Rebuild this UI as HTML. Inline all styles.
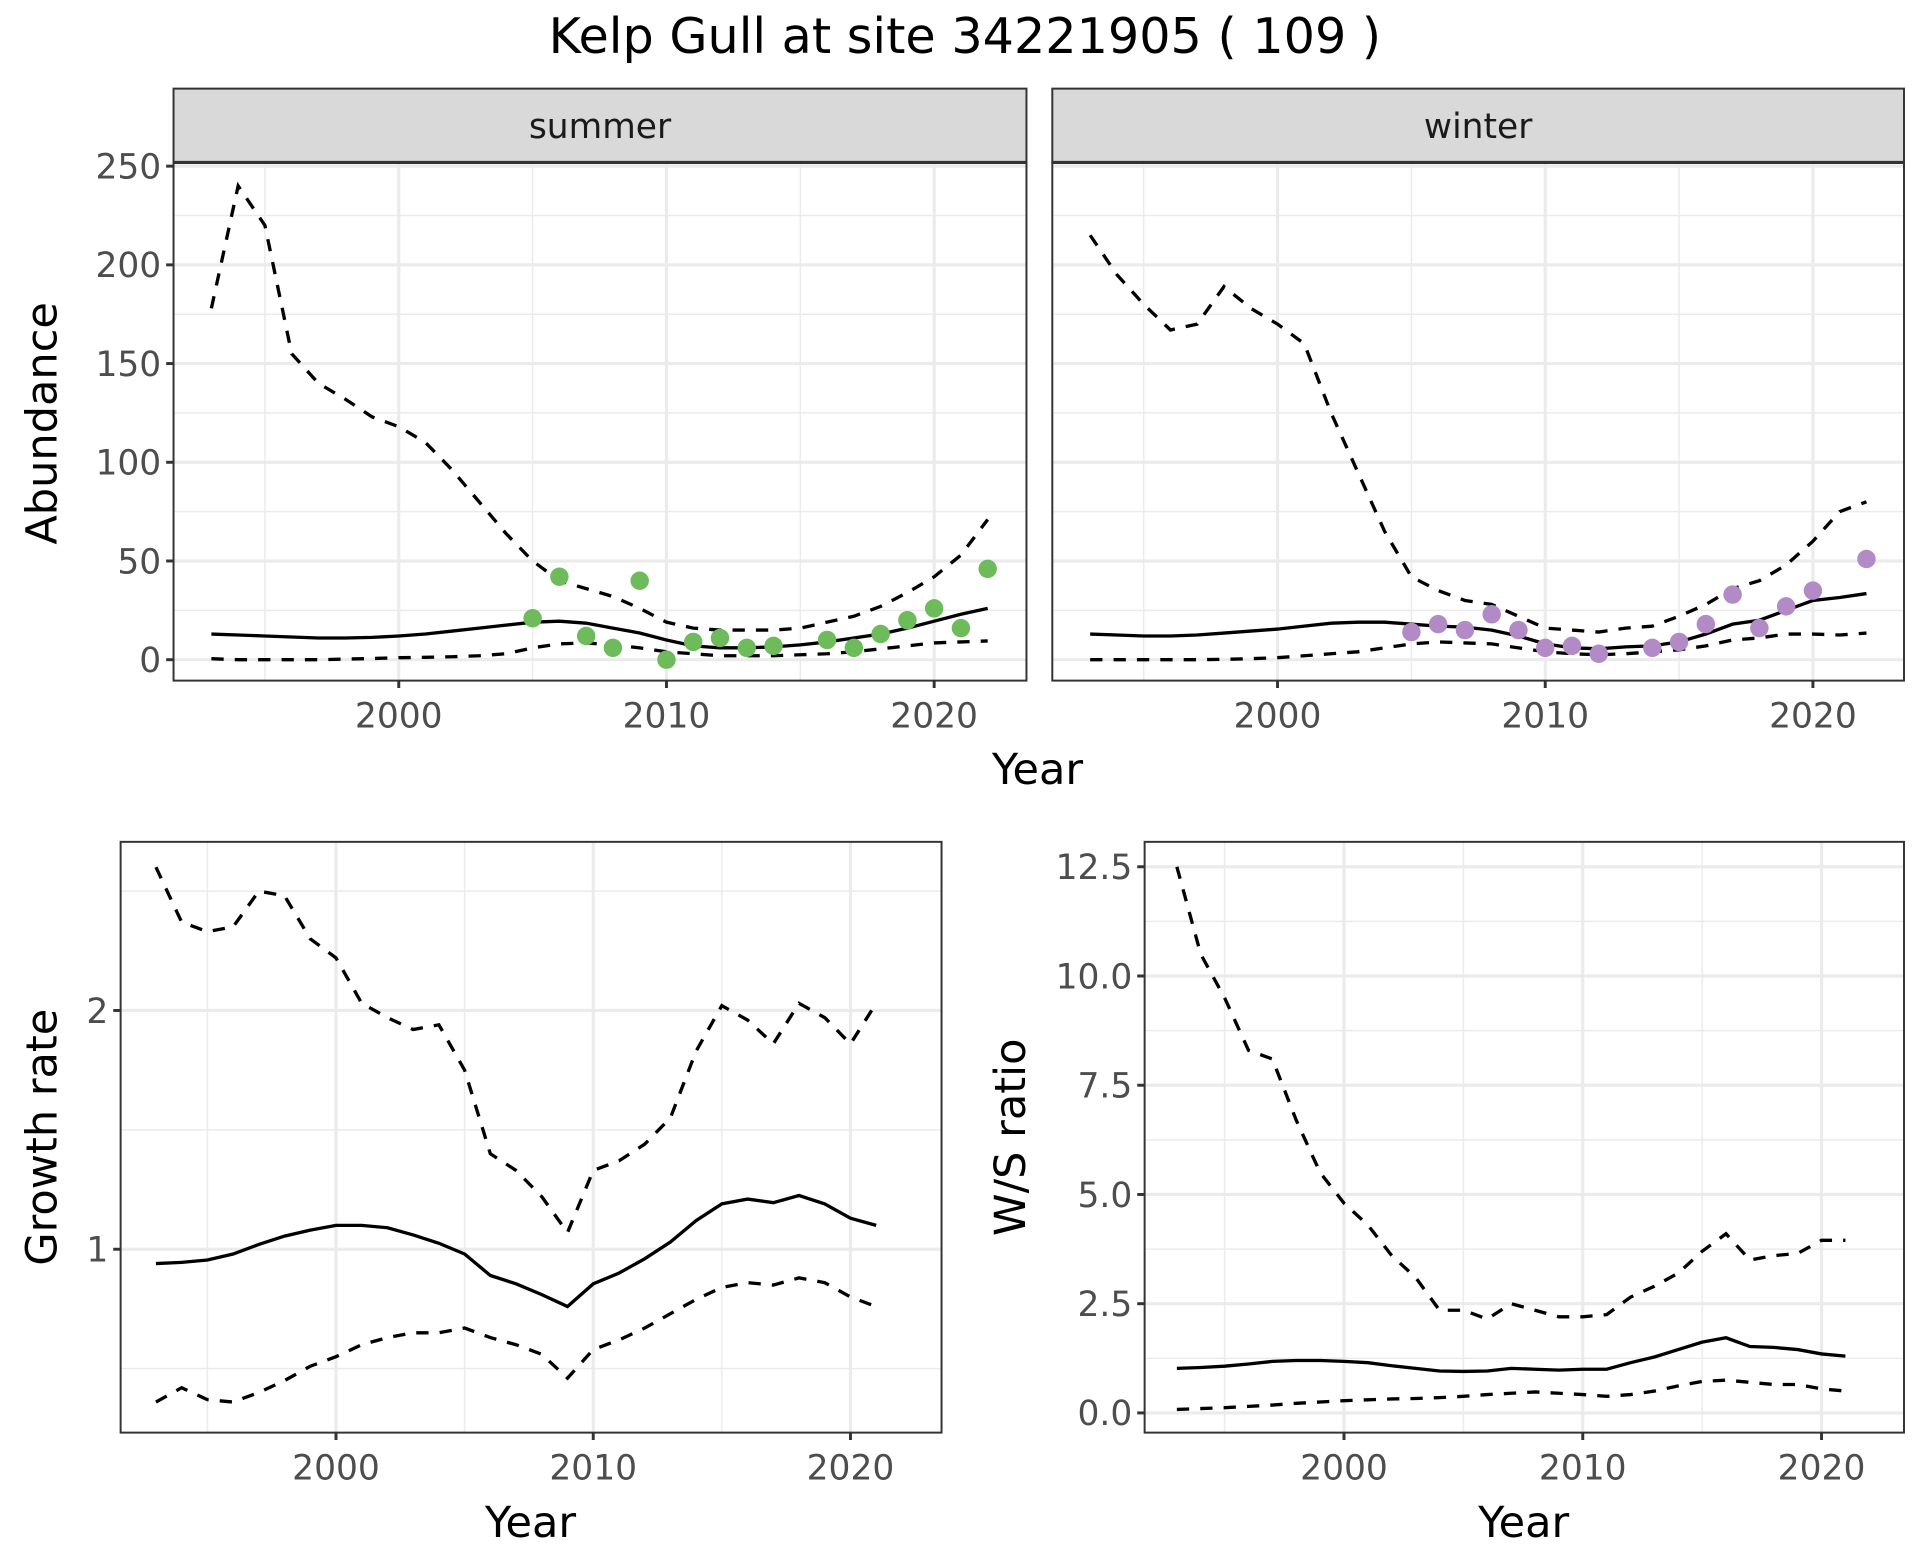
<!DOCTYPE html>
<html><head><meta charset="utf-8"><style>
html,body{margin:0;padding:0;background:#fff}
svg{display:block}
text{font-family:"DejaVu Sans","Liberation Sans",sans-serif}
</style></head><body>
<svg id="chart" width="1920" height="1560" viewBox="0 0 1560 1267.5" xmlns="http://www.w3.org/2000/svg">
<text x="784" y="43" font-size="40" text-anchor="middle" fill="#000">Kelp Gull at site 34221905 ( 109 )</text>
</svg>
<script>
const yearsA = [1993,1994,1995,1996,1997,1998,1999,2000,2001,2002,2003,2004,2005,2006,2007,2008,2009,2010,2011,2012,2013,2014,2015,2016,2017,2018,2019,2020,2021,2022];
const summerUpper = [178,240,220,155,140,132,123,118,110,96,80,64,50,40,36,32,26,19,16,15,15,15,16,19,22,27,34,42,53,71];
const summerMean = [13,12.5,12,11.5,11,11,11.3,12,13,14.5,16,17.5,19,19.5,18.5,16,13.5,10,7,6,6,6.5,7.5,9,11,13,16,19.5,23,26];
const summerLower = [0.5,0,0,0,0,0.3,0.6,1,1.2,1.5,2,3,6,8,8.5,7.5,6,4,3,2,2,2,2.5,3,4,5.5,7,8.5,9,9.5];
const summerPtYears = [2005,2006,2007,2008,2009,2010,2011,2012,2013,2014,2016,2017,2018,2019,2020,2021,2022];
const summerPtVals = [21,42,12,6,40,0,9,11,6,7,10,6,13,20,26,16,46];
const winterUpper = [215,195,180,167,170,189,178,170,160,125,95,65,42,35,30,28,22,16,15,14,16,17,22,28,36,40,48,60,75,80];
const winterMean = [13,12.5,12,12,12.5,13.5,14.5,15.5,17,18.5,19,19,18,17,16.5,15,12,8,6,5.5,6.5,7,9,13,18,20,25,30,31.5,33.5];
const winterLower = [0,0,0,0,0,0.2,0.5,1,2,3,4,6,8,9,8.5,8,6,4,3,2.5,3,4,5,7,10,11,13,13,12.5,13.5];
const winterPtYears = [2005,2006,2007,2008,2009,2010,2011,2012,2014,2015,2016,2017,2018,2019,2020,2022];
const winterPtVals = [14,18,15,23,15,6,7,3,6,9,18,33,16,27,35,51];
const yearsB = [1993,1994,1995,1996,1997,1998,1999,2000,2001,2002,2003,2004,2005,2006,2007,2008,2009,2010,2011,2012,2013,2014,2015,2016,2017,2018,2019,2020,2021];
const growthUpper = [2.6,2.37,2.33,2.35,2.5,2.48,2.3,2.22,2.03,1.97,1.92,1.94,1.75,1.4,1.33,1.22,1.07,1.33,1.37,1.44,1.55,1.83,2.02,1.96,1.86,2.03,1.97,1.86,2.03];
const growthMean = [0.94,0.945,0.955,0.98,1.02,1.055,1.08,1.1,1.1,1.09,1.06,1.025,0.98,0.89,0.855,0.81,0.76,0.855,0.9,0.96,1.03,1.12,1.19,1.21,1.195,1.225,1.19,1.13,1.1];
const growthLower = [0.36,0.42,0.37,0.36,0.4,0.45,0.51,0.55,0.6,0.63,0.65,0.65,0.67,0.63,0.6,0.56,0.46,0.58,0.62,0.67,0.73,0.79,0.84,0.86,0.85,0.88,0.86,0.8,0.76];
const ratioUpper = [12.5,10.5,9.5,8.3,8.1,6.7,5.5,4.8,4.3,3.6,3.1,2.35,2.35,2.15,2.5,2.35,2.2,2.2,2.25,2.65,2.9,3.2,3.7,4.1,3.5,3.6,3.65,3.95,3.95];
const ratioMean = [1.02,1.04,1.07,1.12,1.18,1.2,1.2,1.18,1.15,1.08,1.02,0.96,0.95,0.96,1.02,1.0,0.98,1.0,1.0,1.15,1.28,1.45,1.62,1.72,1.52,1.5,1.45,1.35,1.3];
const ratioLower = [0.08,0.1,0.12,0.15,0.18,0.22,0.25,0.28,0.3,0.32,0.33,0.35,0.38,0.42,0.45,0.48,0.45,0.42,0.38,0.42,0.5,0.62,0.72,0.75,0.7,0.65,0.65,0.55,0.5];
const xTicks = [2000,2010,2020];
const xMinor = [1995,2005,2015];
const abundTicks = [0,50,100,150,200,250];
const abundMinor = [25,75,125,175,225];
const growthTicks = [1,2];
const growthMinor = [0.5,1.5,2.5];
const ratioTicks = [0,2.5,5,7.5,10,12.5];
const ratioTickLabels = ["0.0","2.5","5.0","7.5","10.0","12.5"];
const ratioMinor = [1.25,3.75,6.25,8.75,11.25];

const NS="http://www.w3.org/2000/svg";
const svg=document.getElementById('chart');
function mk(tag,attrs,parent){const e=document.createElementNS(NS,tag);for(const k in attrs)e.setAttribute(k,attrs[k]);(parent||svg).appendChild(e);return e;}

function panel(p){
  const g=mk('g',{});
  
  
  const X=v=>p.x0+(v-2000)*p.ppy;
  const Y=v=>p.y0-(v-p.v0)*p.ppv;
  mk('rect',{x:p.l,y:p.t,width:p.r-p.l,height:p.b-p.t,fill:'#fff'},g);
  p.yMinor.forEach(v=>mk('line',{x1:p.l,x2:p.r,y1:Y(v),y2:Y(v),stroke:'#ebebeb','stroke-width':1.2},g));
  xMinor.forEach(v=>mk('line',{x1:X(v),x2:X(v),y1:p.t,y2:p.b,stroke:'#ebebeb','stroke-width':1.2},g));
  p.yTicks.forEach(v=>mk('line',{x1:p.l,x2:p.r,y1:Y(v),y2:Y(v),stroke:'#ebebeb','stroke-width':2.6},g));
  xTicks.forEach(v=>mk('line',{x1:X(v),x2:X(v),y1:p.t,y2:p.b,stroke:'#ebebeb','stroke-width':2.6},g));
  const line=(xs,ys,dash,nm)=>{
    const el=mk('polyline',{points:xs.map((x,i)=>X(x)+','+Y(ys[i])).join(' '),fill:'none',stroke:'#000','stroke-width':2.7,'stroke-dasharray':dash?'10,9':'none'},g);
    
    
  };
  line(p.years,p.upper,true,'upper-bound-line');
  line(p.years,p.mean,false,'mean-line');
  line(p.years,p.lower,true,'lower-bound-line');
  if(p.ptX){p.ptX.forEach((x,i)=>{
    const c=mk('circle',{cx:X(x),cy:Y(p.ptY[i]),r:7.5,fill:p.ptColor},g);
    
    
  });}
  mk('rect',{x:p.l,y:p.t,width:p.r-p.l,height:p.b-p.t,fill:'none',stroke:'#333','stroke-width':1.6},g);
  if(p.showY){p.yTicks.forEach((v,i)=>{
    mk('line',{x1:p.l-6,x2:p.l,y1:Y(v),y2:Y(v),stroke:'#333','stroke-width':2.4},g);
    const t=mk('text',{x:p.l-10,y:Y(v)+10,'font-size':28,fill:'#4d4d4d','text-anchor':'end'},g);
    t.textContent=p.yLabels?p.yLabels[i]:String(v);
  });}
  xTicks.forEach(v=>{
    mk('line',{x1:X(v),x2:X(v),y1:p.b,y2:p.b+6,stroke:'#333','stroke-width':2.4},g);
    const t=mk('text',{x:X(v),y:p.b+38,'font-size':28,fill:'#4d4d4d','text-anchor':'middle'},g);
    t.textContent=String(v);
  });
  if(p.strip){
    mk('rect',{x:p.l,y:72,width:p.r-p.l,height:p.t-72,fill:'#d9d9d9',stroke:'#333','stroke-width':1.6},g);
    mk('line',{x1:p.l,x2:p.r,y1:p.t,y2:p.t,stroke:'#333','stroke-width':2.6},g);
    const t=mk('text',{x:(p.l+p.r)/2,y:112,'font-size':28,fill:'#1a1a1a','text-anchor':'middle'},g);
    t.textContent=p.strip;
  }
  return g;
}

panel({name:'summer-panel',l:141,r:834,t:132,b:553,x0:324,ppy:21.75,y0:536,v0:0,ppv:1.604,years:yearsA,upper:summerUpper,mean:summerMean,lower:summerLower,ptX:summerPtYears,ptY:summerPtVals,ptColor:'#6dbb5b',yTicks:abundTicks,yMinor:abundMinor,showY:true,strip:'summer'});
panel({name:'winter-panel',l:855,r:1547,t:132,b:553,x0:1038,ppy:21.75,y0:536,v0:0,ppv:1.604,years:yearsA,upper:winterUpper,mean:winterMean,lower:winterLower,ptX:winterPtYears,ptY:winterPtVals,ptColor:'#b28ac6',yTicks:abundTicks,yMinor:abundMinor,showY:false,strip:'winter'});
panel({name:'growth-rate-panel',l:98,r:765,t:684,b:1164,x0:273,ppy:20.9,y0:1015,v0:1,ppv:194,years:yearsB,upper:growthUpper,mean:growthMean,lower:growthLower,yTicks:growthTicks,yMinor:growthMinor,showY:true});
panel({name:'ws-ratio-panel',l:930,r:1547,t:684,b:1164,x0:1092,ppy:19.4,y0:1148,v0:0,ppv:35.5,years:yearsB,upper:ratioUpper,mean:ratioMean,lower:ratioLower,yTicks:ratioTicks,yLabels:ratioTickLabels,yMinor:ratioMinor,showY:true});

function label(txt,x,y,rot,name){
  const t=mk('text',{x:x,y:y,'font-size':35,fill:'#000','text-anchor':'middle',transform:rot?`rotate(-90 ${x} ${y})`:''});
  
  
  t.textContent=txt;
}
label('Year',843,637,false,'top-x-axis-title');
label('Abundance',46,344,true,'abundance-y-axis-title');
label('Year',431,1249,false,'growth-x-axis-title');
label('Year',1238,1249,false,'ratio-x-axis-title');
label('Growth rate',46,924,true,'growth-rate-y-axis-title');
label('W/S ratio',833,924,true,'ws-ratio-y-axis-title');
</script>
</body></html>
